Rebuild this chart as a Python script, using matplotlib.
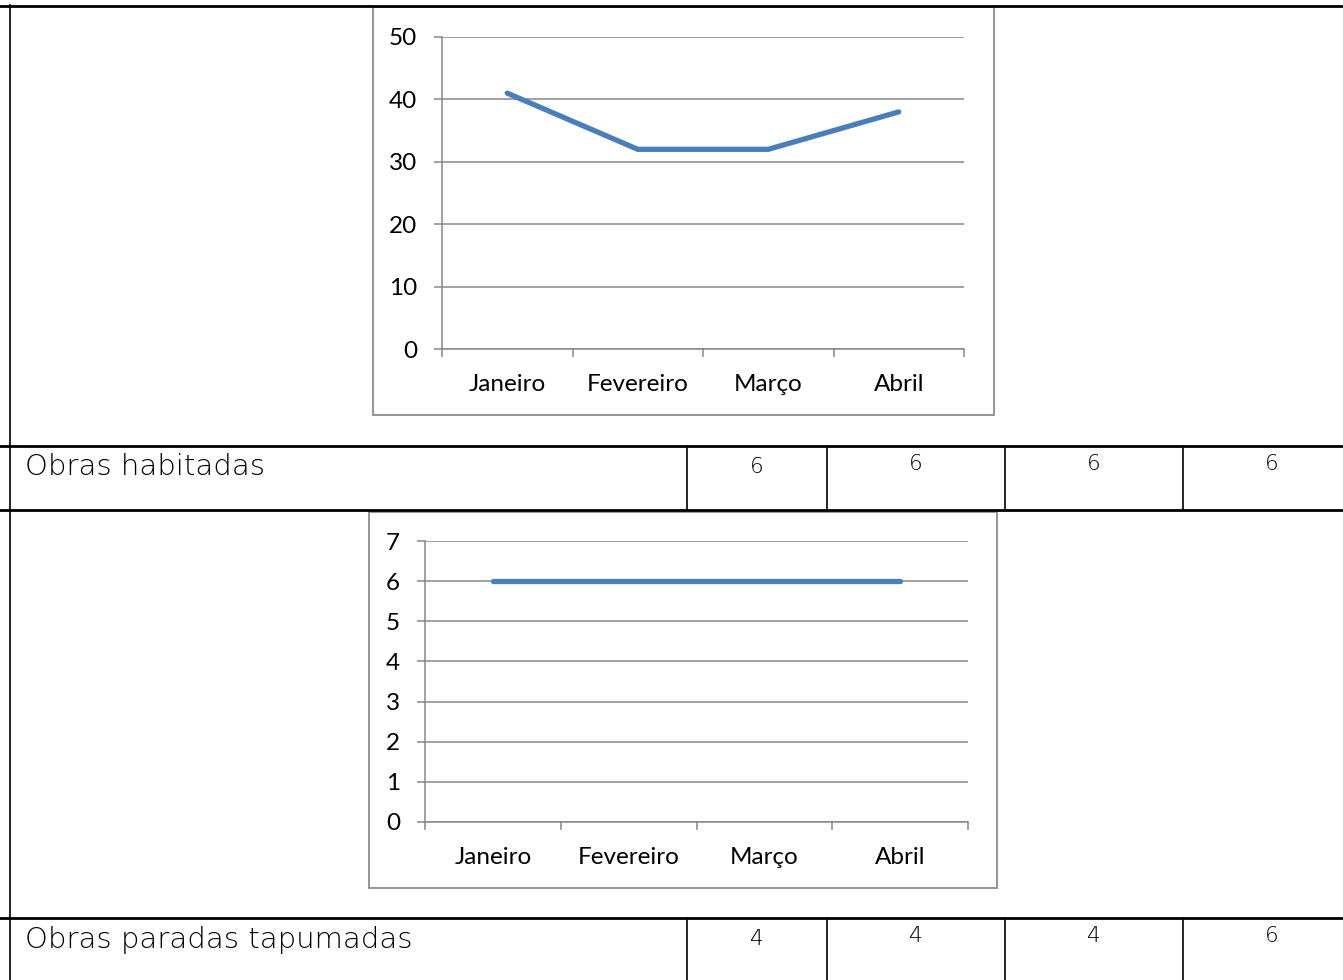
import matplotlib
matplotlib.use("Agg")
import matplotlib.pyplot as plt
import numpy as np
from matplotlib.patches import Rectangle
from matplotlib.lines import Line2D

meses = ["Janeiro", "Fevereiro", "Março", "Abril"]
serie_grafico1 = [41, 32, 32, 38]
serie_grafico2 = [6, 6, 6, 6]
linha1_rotulo = "Obras habitadas"
linha1_valores = [6, 6, 6, 6]
linha2_rotulo = "Obras paradas tapumadas"
linha2_valores = [4, 4, 4, 6]

W, H = 1343, 980
fig = plt.figure(figsize=(W / 100, H / 100), dpi=100)
fig.patch.set_facecolor("white")

def fx(px):
    return px / W

def fy(py):
    return 1 - py / H

def hline(y, x0, x1, lw):
    fig.add_artist(Line2D([fx(x0), fx(x1)], [fy(y), fy(y)], color="black", lw=lw,
                          transform=fig.transFigure))

def vline(x, y0, y1, lw):
    fig.add_artist(Line2D([fx(x), fx(x)], [fy(y0), fy(y1)], color="black", lw=lw,
                          transform=fig.transFigure))

# table grid
for y in [6, 446, 510, 918]:
    hline(y, 0, W, 2.0)
vline(10, 5, 980, 1.2)
for x in [687, 827, 1005, 1183]:
    vline(x, 446, 510, 1.2)
    vline(x, 918, 980, 1.2)

table_font = ["DejaVu Sans"]
fig.text(fx(25), fy(467), linha1_rotulo, fontsize=21, family=table_font,
         weight="light", va="center", ha="left", color="black")
fig.text(fx(25), fy(940), linha2_rotulo, fontsize=21, family=table_font,
         weight="light", va="center", ha="left", color="black")
num_x = [757, 916, 1094, 1272]
num_y1 = [467, 464, 464, 464]
num_y2 = [939, 936, 936, 936]
for i in range(4):
    fig.text(fx(num_x[i]), fy(num_y1[i]), str(linha1_valores[i]), fontsize=15.5,
             family=table_font, weight="light", va="center", ha="center")
    fig.text(fx(num_x[i]), fy(num_y2[i]), str(linha2_valores[i]), fontsize=15.5,
             family=table_font, weight="light", va="center", ha="center")

chart_font = ["Lato", "DejaVu Sans"]
gridc = "#878787"
linec = "#4a7ebb"

def chart(box, plot, values, ymax, ystep):
    bx0, by0, bx1, by1 = box
    fig.add_artist(Rectangle((fx(bx0), fy(by1)), fx(bx1 - bx0), (by1 - by0) / H,
                             transform=fig.transFigure, fill=False,
                             edgecolor="#8c8c8c", lw=1.3))
    px0, py0, px1, py1 = plot
    ax = fig.add_axes([fx(px0), fy(py1), fx(px1 - px0), (py1 - py0) / H])
    x = np.arange(len(meses)) + 0.5
    ax.plot(x, values, color=linec, lw=3.8, solid_capstyle="round",
            solid_joinstyle="miter", zorder=3, clip_on=False)
    ax.set_xlim(0, len(meses))
    ax.set_ylim(0, ymax)
    ax.set_yticks(np.arange(0, ymax + ystep / 2, ystep))
    ax.set_xticks(np.arange(0, len(meses) + 1))
    ax.set_xticklabels([])
    ax.set_xticks(x, minor=True)
    ax.set_xticklabels(meses, minor=True)
    ax.tick_params(axis="x", which="minor", length=0, pad=18, labelsize=17.5)
    ax.tick_params(axis="x", which="major", length=6, color=gridc, width=1.1, direction="out")
    ax.tick_params(axis="y", length=6, color=gridc, width=1.1, direction="out",
                   labelsize=17.5, pad=12)
    for lab in ax.get_xticklabels(minor=True) + ax.get_yticklabels():
        lab.set_family(chart_font)
    ax.yaxis.grid(True, color=gridc, lw=1.1)
    ax.set_axisbelow(True)
    for s in ["top", "right"]:
        ax.spines[s].set_visible(False)
    for s in ["left", "bottom"]:
        ax.spines[s].set_color(gridc)
        ax.spines[s].set_linewidth(1.1)
    ax.patch.set_alpha(0)
    return ax

chart((373, 7, 994, 415), (442, 37, 964, 349), serie_grafico1, 50, 10)
chart((369, 512, 997, 888), (425, 541, 968, 822), serie_grafico2, 7, 1)

fig.savefig("out.png", dpi=100)
